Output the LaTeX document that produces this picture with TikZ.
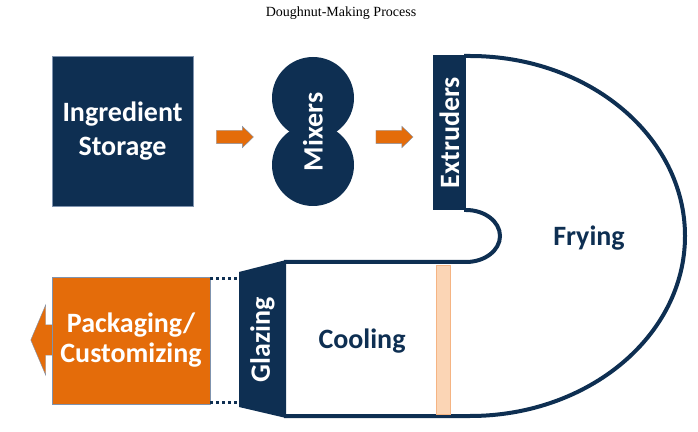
\documentclass[tikz,border=0pt]{standalone}
\usepackage{fontspec}
\setmainfont{Liberation Serif}
\setsansfont{Carlito}
\usetikzlibrary{
  calc,
  positioning,
  shapes.arrows
}
\definecolor{doNavy}{HTML}{0E2F52}
\definecolor{doOrange}{HTML}{E46C0A}
\definecolor{doPeach}{HTML}{FBD5B5}
\definecolor{doPeachLine}{HTML}{F5B483}
\definecolor{doEdge}{HTML}{7F93AE}

\begin{document}
\begin{tikzpicture}[
  x=1pt, y=1pt,
  font=\sffamily\bfseries\fontsize{28}{34}\selectfont,
  stage/.style={
    fill=doNavy,
    text=white,
    align=center,
    inner sep=0pt
  },
  mixer/.style={circle, fill=doNavy, minimum size=82pt, inner sep=0pt},
  upright/.style={text=white, rotate=90, inner sep=0pt},
  flowarrow/.style={
    single arrow,
    fill=doOrange,
    draw=doEdge,
    line width=0.4pt,
    minimum height=37pt,
    inner xsep=0pt,
    inner ysep=6.5pt,
    single arrow head extend=4pt,
    single arrow tip angle=88
  },
  outline/.style={draw=doNavy, line width=4pt},
  dotline/.style={draw=doNavy, line width=3pt, dash pattern=on 3pt off 3pt},
  label/.style={text=doNavy, inner sep=0pt}
]
\useasboundingbox (0,0) rectangle (698,431);

\node[font=\rmfamily\fontsize{14}{16}\selectfont] (title) at (341,418) {Doughnut-Making Process};

% top row
\node[stage, draw=doEdge, line width=0.4pt, minimum width=141pt, minimum height=150pt] (storage) at (122.5,300) {Ingredient\\Storage};
\node[flowarrow] (arrowA) at (231.5,294) {};
\node[mixer] (mixtop) at (313,333) {};
\node[mixer] (mixbot) at (313,266) {};
\node[upright] (mixers) at (313,299) {Mixers};
\node[flowarrow] (arrowB) at (391,294) {};

% fryer loop
\draw[outline] (464,375) -- (470,375)
  arc[start angle=90, end angle=-90, x radius=215, y radius=180] -- (284,15);
\draw[outline] (284,169) -- (466,169)
  arc[start angle=-90, end angle=90, x radius=34, y radius=26] -- (464,221);
\node[fill=doPeach, draw=doPeachLine, line width=0.8pt, minimum width=14pt,
  minimum height=149pt, inner sep=0pt] (strip) at (443.5,91.5) {};
\node[stage, minimum width=33pt, minimum height=155pt] (extruders) at (449.5,298.5) {};
\node[upright] at (extruders.center) {Extruders};
\node[label] (frying) at (589,193) {Frying};
\node[label] (cooling) at (362,90) {Cooling};

% glazing and packaging
\coordinate (glzNW) at (239,159);
\coordinate (glzNE) at (286,171);
\coordinate (glzSE) at (286,13);
\coordinate (glzSW) at (239,24);
\fill[doNavy] (glzNW) -- (glzNE) -- (glzSE) -- (glzSW) -- cycle;
\node[upright] (glazing) at (262.5,91) {Glazing};

\node[single arrow, shape border rotate=180, fill=doOrange, draw=doEdge,
  line width=0.4pt, minimum height=28pt, inner xsep=0pt, inner ysep=15pt,
  single arrow head extend=20pt, single arrow tip angle=134] (outArrow) at (48,91) {};
\node[stage, fill=doOrange, draw=doEdge, line width=0.4pt, minimum width=158pt,
  minimum height=127pt] (packing) at (131,90.5) {Packaging/\\[-4pt]Customizing};

\coordinate (dotTop) at ($(packing.north east)+(0,-2)$);
\coordinate (dotBot) at ($(packing.south east)+(0,2)$);
\draw[dotline] (dotTop) -- (dotTop -| glzNW);
\draw[dotline] (dotBot) -- (dotBot -| glzSW);

\end{tikzpicture}
\end{document}
